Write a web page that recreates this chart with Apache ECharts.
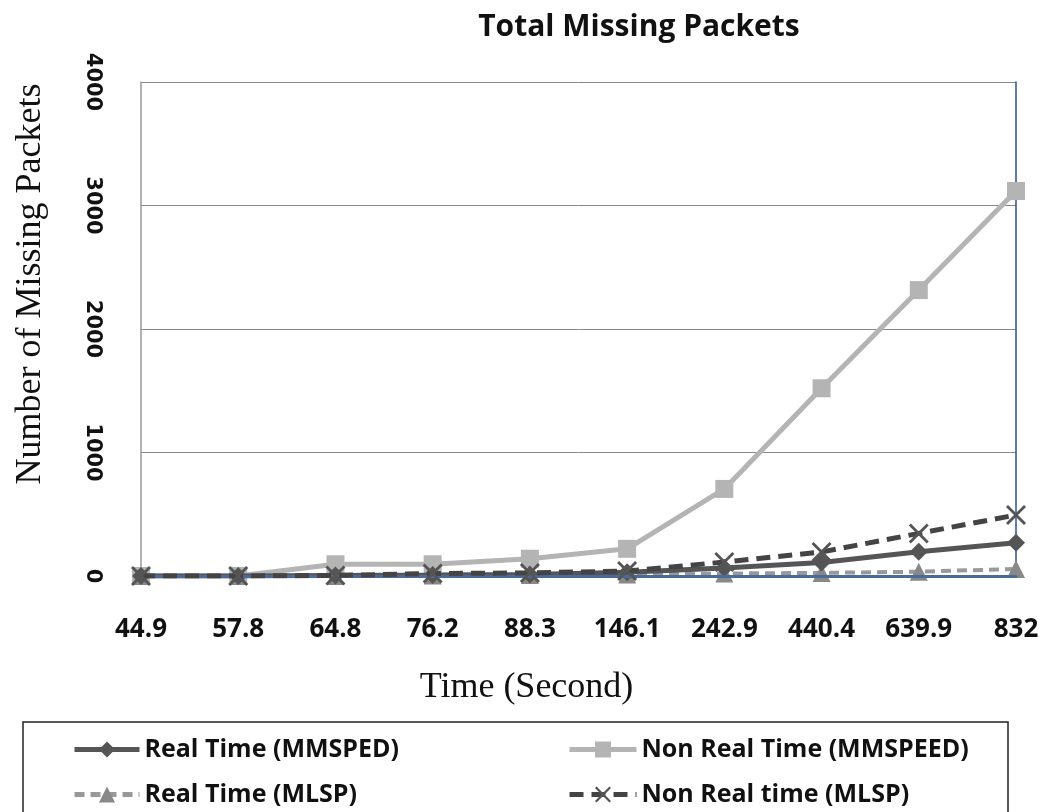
<!DOCTYPE html>
<html><head><meta charset="utf-8">
<script src="https://cdn.jsdelivr.net/npm/echarts@6/dist/echarts.min.js"></script>
<style>html,body{margin:0;padding:0;background:#fff}#c{width:1046px;height:812px}</style>
</head><body><div id="c"></div>
<script>
const categories = ['44.9','57.8','64.8','76.2','88.3','146.1','242.9','440.4','639.9','832'];
const rtMMSPED  = [0, 0, 5, 8, 12, 30, 65, 110, 197, 270];
const nrtMMSPEED = [0, 0, 95, 95, 140, 220, 705, 1520, 2315, 3117];
const rtMLSP    = [0, 0, 0, 5, 8, 12, 20, 25, 35, 57];
const nrtMLSP   = [0, 0, 5, 20, 25, 40, 113, 195, 345, 494];
const yTicks = [0, 1000, 2000, 3000, 4000];

const FONT = "'Open Sans','Noto Sans',sans-serif";
const SERIF = "'Liberation Serif','DejaVu Serif',serif";
const xSym = 'path://M0,2L2,0L10,8L18,0L20,2L12,10L20,18L18,20L10,12L2,20L0,18L8,10Z';

const chart = echarts.init(document.getElementById('c'));
const legendText = { fontFamily: FONT, fontSize: 25, fontWeight: 'bold', color: '#111' };
chart.setOption({
  animation: false,
  title: { text: 'Total Missing Packets', left: 634, top: 7, textAlign: 'center',
    textStyle: { fontFamily: FONT, fontWeight: 'bold', fontSize: 30, color: '#111' } },
  grid: { left: 141, right: 30, top: 82, bottom: 236 },
  legend: [
    { orient: 'vertical', left: 67, top: 732, itemGap: 20, itemWidth: 65, itemHeight: 20,
      lineStyle: { width: 5 },
      data: ['Real Time (MMSPED)', 'Real Time (MLSP)'], textStyle: legendText },
    { orient: 'vertical', left: 562, top: 732, itemGap: 20, itemWidth: 67, itemHeight: 20,
      lineStyle: { width: 5 },
      data: ['Non Real Time (MMSPEED)', 'Non Real time (MLSP)'], textStyle: legendText }
  ],
  graphic: [{ type: 'rect', shape: { x: 23, y: 722, width: 985, height: 100 },
    style: { fill: 'none', stroke: '#222', lineWidth: 1.5 }, silent: true }],
  xAxis: [{
    type: 'category', data: categories, boundaryGap: false,
    name: 'Time (Second)', nameLocation: 'middle', nameGap: 94,
    nameTextStyle: { fontFamily: SERIF, fontSize: 36, color: '#111', padding: [0, 104, 0, 0] },
    axisLine: { lineStyle: { color: '#999', width: 1.5 } },
    axisTick: { show: false },
    axisLabel: { margin: 41, fontFamily: FONT, fontWeight: 'bold', fontSize: 26, color: '#111' },
    splitLine: { show: false }
  }, {
    type: 'category', data: categories, boundaryGap: false, position: 'top', z: 5,
    axisLine: { lineStyle: { color: '#4a6a9c', width: 3 } },
    axisTick: { show: false }, axisLabel: { show: false }
  }],
  yAxis: [{
    type: 'value', min: 0, max: 4000, interval: 1000,
    name: 'Number of Missing Packets', nameLocation: 'middle', nameGap: 92,
    nameTextStyle: { fontFamily: SERIF, fontSize: 36, color: '#111', padding: [0, 0, 0, 90] },
    axisLine: { show: true, lineStyle: { color: '#999', width: 1.5 } },
    axisTick: { show: false },
    axisLabel: { rotate: -90, margin: 38, fontFamily: "'DejaVu Sans',sans-serif", fontWeight: 'bold', fontSize: 21, color: '#111',
      formatter: v => yTicks.includes(v) ? String(v) : '' },
    splitLine: { lineStyle: { color: '#888', width: 1 } }
  }, {
    type: 'value', min: 0, max: 4000, interval: 1000, position: 'right',
    axisLine: { show: true, lineStyle: { color: '#2a4f9a', width: 1.5 } },
    axisTick: { show: false }, axisLabel: { show: false }, splitLine: { show: false }
  }],
  series: [
    { name: 'Real Time (MMSPED)', type: 'line', data: rtMMSPED, z: 4,
      symbol: 'diamond', symbolSize: 18,
      lineStyle: { color: '#555', width: 5 }, itemStyle: { color: '#555' } },
    { name: 'Non Real Time (MMSPEED)', type: 'line', data: nrtMMSPEED, z: 2,
      symbol: 'rect', symbolSize: 18,
      lineStyle: { color: '#b4b4b4', width: 5 }, itemStyle: { color: '#b4b4b4' } },
    { name: 'Real Time (MLSP)', type: 'line', data: rtMLSP, z: 3,
      symbol: 'triangle', symbolSize: 18,
      lineStyle: { color: '#999', width: 4, type: [10, 6] }, itemStyle: { color: '#888' } },
    { name: 'Non Real time (MLSP)', type: 'line', data: nrtMLSP, z: 5,
      symbol: xSym, symbolSize: 20,
      lineStyle: { color: '#444', width: 5, type: [14, 8] }, itemStyle: { color: '#555' } }
  ]
});
</script></body></html>
